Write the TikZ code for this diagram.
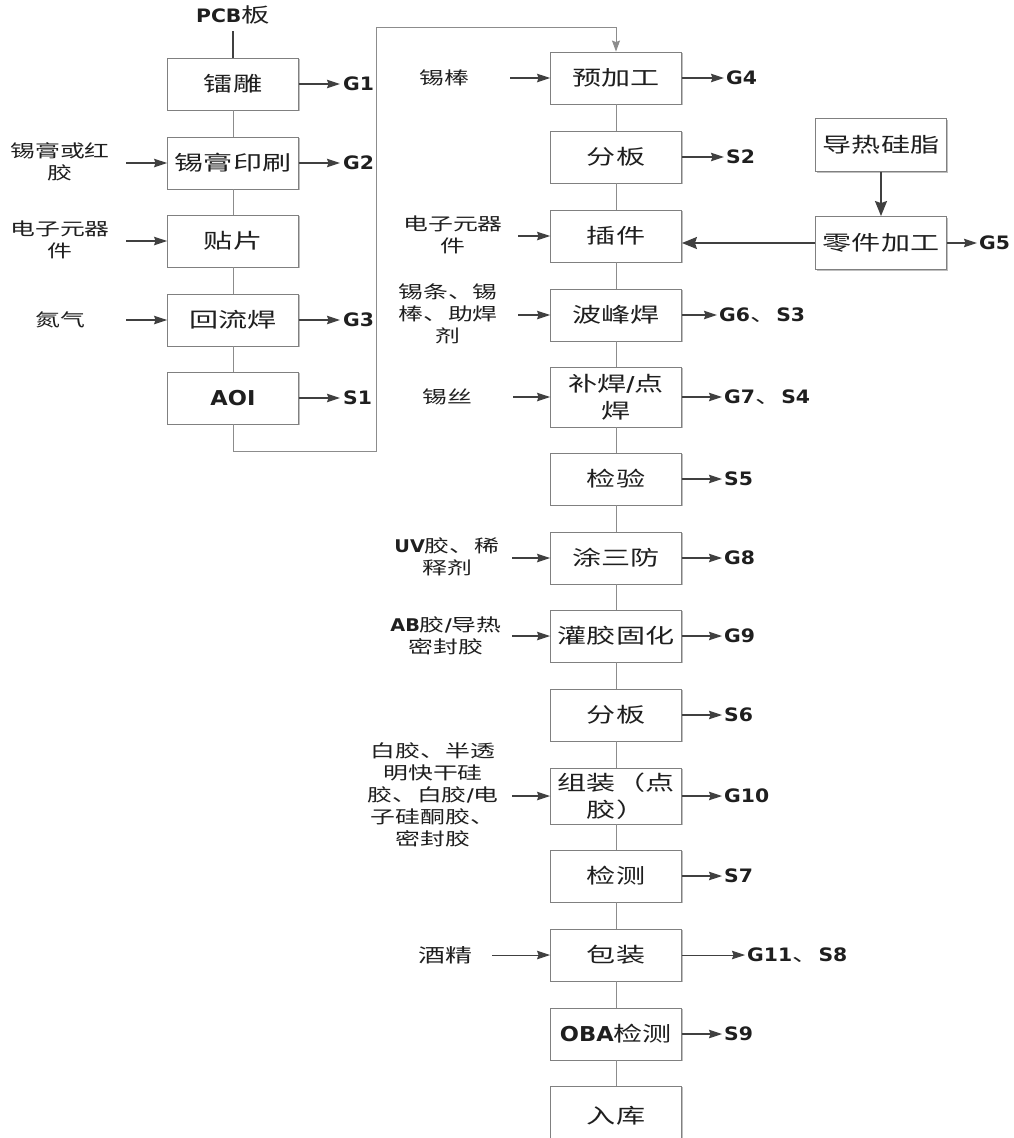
\documentclass[tikz,border=0pt]{standalone}
\usepackage{fontspec}
\setmainfont{Noto Sans CJK SC}[FakeStretch=1.42]
\newfontfamily\latf{DejaVu Sans}[FakeStretch=1.1]
\newcommand\Lt[1]{{\latf\bfseries #1}}
\usetikzlibrary{arrows.meta,shadows}
\definecolor{boxc}{gray}{0.5}
\definecolor{linec}{gray}{0.55}
\definecolor{arrc}{gray}{0.25}
\definecolor{txtc}{gray}{0.12}
\begin{document}
\begin{tikzpicture}[x=1pt,y=-1pt,
  box/.style={draw=boxc, line width=0.9pt, fill=white, minimum width=131pt, minimum height=52pt,
    inner sep=0pt, align=center, text=txtc, font=\fontsize{20.5}{27}\selectfont,
    drop shadow={shadow xshift=1.2pt, shadow yshift=-1.2pt, opacity=0.25, fill=black}},
  lab/.style={align=center, text=txtc, font=\fontsize{17.5}{22}\selectfont, inner sep=0pt},
  outl/.style={anchor=west, text=txtc, inner sep=0pt, font=\fontsize{18.5}{22}\selectfont},
  conn/.style={draw=linec, line width=0.9pt},
  arr/.style={draw=arrc, line width=1.1pt, -{Stealth[length=13pt,width=8.5pt,inset=1.5pt]}},
  bigarr/.style={draw=arrc, line width=1.8pt, -{Stealth[length=15pt,width=12pt,inset=2pt]}}]
\fill[white] (0,0) rectangle (1013,1138);
\useasboundingbox (0,0) rectangle (1013,1138);

% left column
\node[outl, anchor=center] (pcb) at (233,15) {\Lt{PCB}{\fontsize{20}{22}\selectfont 板}};
\node[box] (b1) at (233,84) {镭雕};
\node[box] (b2) at (233,163) {锡膏印刷};
\node[box] (b3) at (233,241) {贴片};
\node[box] (b4) at (233,320) {回流焊};
\node[box] (b5) at (233,398) {\Lt{AOI}};

\draw[draw=arrc, line width=1.3pt, shorten <=7pt] (pcb.south) -- (b1.north);
\draw[conn] (b1) -- (b2);
\draw[conn] (b2) -- (b3);
\draw[conn] (b3) -- (b4);
\draw[conn] (b4) -- (b5);

% left inputs
\node[lab] (i2) at (60,162) {锡膏或红\\胶};
\node[lab] (i3) at (60,240) {电子元器\\件};
\node[lab] (i4) at (60,320) {氮气};
\coordinate (i2s) at (126,163);
\coordinate (i3s) at (126,241);
\coordinate (i4s) at (126,320);
\draw[arr] (i2s) -- (b2.west);
\draw[arr] (i3s) -- (b3.west);
\draw[arr] (i4s) -- (b4.west);

% left outputs
\node[outl] (g1) at (343,84) {\Lt{G1}};
\node[outl] (g2) at (343,163) {\Lt{G2}};
\node[outl] (g3) at (343,320) {\Lt{G3}};
\node[outl] (s1) at (343,398) {\Lt{S1}};
\draw[arr, shorten >=3pt] (b1.east) -- (g1.west);
\draw[arr, shorten >=3pt] (b2.east) -- (g2.west);
\draw[arr, shorten >=3pt] (b4.east) -- (g3.west);
\draw[arr, shorten >=3pt] (b5.east) -- (s1.west);

% right column
\node[box] (r1) at (616,78) {预加工};
\node[box] (r2) at (616,157) {分板};
\node[box] (r3) at (616,236) {插件};
\node[box] (r4) at (616,315) {波峰焊};
\node[box, minimum height=60pt] (r5) at (616,397) {补焊\Lt{/}点\\焊};
\node[box] (r6) at (616,479) {检验};
\node[box] (r7) at (616,558) {涂三防};
\node[box] (r8) at (616,636) {灌胶固化};
\node[box] (r9) at (616,715) {分板};
\node[box, minimum height=56pt] (r10) at (616,796) {组装（点\\胶）};
\node[box] (r11) at (616,876) {检测};
\node[box] (r12) at (616,955) {包装};
\node[box] (r13) at (616,1034) {\Lt{OBA}检测};
\node[box, minimum height=60pt] (r14) at (616,1116) {入库};

\foreach \a/\b in {r1/r2,r2/r3,r3/r4,r4/r5,r5/r6,r6/r7,r7/r8,r8/r9,r9/r10,r10/r11,r11/r12,r12/r13,r13/r14}
  \draw[conn] (\a) -- (\b);

% return path
\coordinate (ret1) at (376,451);
\coordinate (ret2) at (376,27);
\draw[conn, -{Stealth[length=11pt,width=8pt,inset=1.5pt]}] (b5.south) |- (ret1) -- (ret2) -| (r1.north);

% side boxes
\node[box, minimum height=53pt] (p1) at (881,145) {导热硅脂};
\node[box, minimum height=53pt] (p2) at (881,243) {零件加工};
\draw[bigarr] (p1.south) -- (p2.north);
\draw[bigarr] (p2.west) -- (r3.east |- p2.west);
\node[outl] (g5) at (979,243) {\Lt{G5}};
\draw[arr, shorten >=2pt] (p2.east) -- (g5.west);

% right inputs
\node[lab] (j1) at (444,78) {锡棒};
\node[lab] (j3) at (453,235) {电子元器\\件};
\node[lab] (j4) at (448,314) {锡条、锡\\棒、助焊\\剂};
\node[lab] (j5) at (447,397) {锡丝};
\node[lab] (j7) at (447,557) {\Lt{UV}胶、稀\\释剂};
\node[lab] (j8) at (446,636) {\Lt{AB}胶\Lt{/}导热\\密封胶};
\node[lab] (j10) at (433,795) {白胶、半透\\明快干硅\\胶、白胶\Lt{/}电\\子硅酮胶、\\密封胶};
\node[lab, font=\fontsize{19}{22}\selectfont] (j12) at (445,955) {酒精};
\coordinate (j1s) at (510,78);
\coordinate (j3s) at (518,236);
\coordinate (j4s) at (518,315);
\coordinate (j5s) at (513,397);
\coordinate (j7s) at (512,558);
\coordinate (j8s) at (512,636);
\coordinate (j10s) at (512,796);
\coordinate (j12s) at (492,955);
\draw[arr] (j1s) -- (r1.west);
\draw[arr] (j3s) -- (r3.west);
\draw[arr] (j4s) -- (r4.west);
\draw[arr] (j5s) -- (r5.west);
\draw[arr] (j7s) -- (r7.west);
\draw[arr] (j8s) -- (r8.west);
\draw[arr] (j10s) -- (r10.west);
\draw[arr, line width=0.9pt] (j12s) -- (r12.west);

% right outputs
\node[outl] (o1) at (726,78) {\Lt{G4}};
\node[outl] (o2) at (726,157) {\Lt{S2}};
\node[outl] (o4) at (719,315) {\Lt{G6}、\Lt{S3}};
\node[outl] (o5) at (724,397) {\Lt{G7}、\Lt{S4}};
\node[outl] (o6) at (724,479) {\Lt{S5}};
\node[outl] (o7) at (724,558) {\Lt{G8}};
\node[outl] (o8) at (724,636) {\Lt{G9}};
\node[outl] (o9) at (724,715) {\Lt{S6}};
\node[outl] (o10) at (724,796) {\Lt{G10}};
\node[outl] (o11) at (724,876) {\Lt{S7}};
\node[outl] (o12) at (747,955) {\Lt{G11}、\Lt{S8}};
\node[outl] (o13) at (724,1034) {\Lt{S9}};
\foreach \a/\b in {r1/o1,r2/o2,r4/o4,r5/o5,r6/o6,r7/o7,r8/o8,r9/o9,r10/o10,r11/o11,r13/o13}
  \draw[arr, shorten >=2pt] (\a.east) -- (\b.west);
\draw[arr, line width=0.9pt, shorten >=2pt] (r12.east) -- (o12.west);
\end{tikzpicture}
\end{document}
